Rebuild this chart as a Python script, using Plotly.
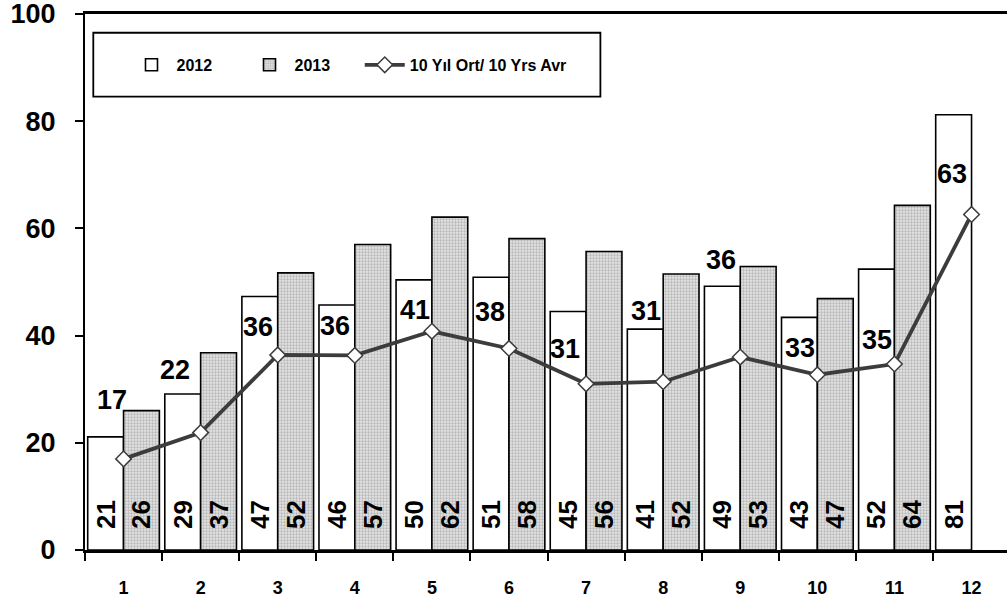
import plotly.graph_objects as go

months = ["1", "2", "3", "4", "5", "6", "7", "8", "9", "10", "11", "12"]
v2012 = [21.1, 29.1, 47.3, 45.7, 50.4, 50.9, 44.5, 41.2, 49.2, 43.4, 52.4, 81.2]
v2013 = [26.0, 36.8, 51.7, 57.0, 62.1, 58.1, 55.7, 51.5, 52.9, 46.9, 64.3, None]
avg10 = [17.0, 21.9, 36.4, 36.3, 40.8, 37.6, 31.0, 31.4, 36.0, 32.7, 34.7, 62.6]
yticks = [0, 20, 40, 60, 80, 100]

# label placement (pixel offsets of the average-line labels, style only)
lab_dx = [-12, -26, -20, -20, -17, -19, -21, -17, -19, -17, -17, -20]
lab_dy = [42, 46, 11, 12, 4, 19, 18, 54, 80, 10, 7, 23]

FONT = "Liberation Sans"
bar_font = dict(family=FONT, size=26, color="black", weight="bold")
line_font = dict(family=FONT, size=27, color="black", weight="bold")

fig = go.Figure()
fig.add_trace(go.Bar(
    x=months, y=v2012, name="2012",
    width=0.465, offset=-0.465,
    marker=dict(color="white", line=dict(color="black", width=1.6)),
    texttemplate="\u2002\u2009%{y:.0f}", textposition="inside", insidetextanchor="start",
    textangle=-90, insidetextfont=bar_font, legend="legend",
))
fig.add_trace(go.Bar(
    x=months, y=v2013, name="2013",
    width=0.465, offset=0,
    marker=dict(color="#d0d0d0", line=dict(color="black", width=1.6),
                pattern=dict(shape=".", fgcolor="#8a8a8a", bgcolor="#e4e4e4",
                             size=3, solidity=0.45)),
    texttemplate="\u2002\u2009%{y:.0f}", textposition="inside", insidetextanchor="start",
    textangle=-90, insidetextfont=bar_font, legend="legend2",
))
fig.add_trace(go.Scatter(
    x=months, y=avg10, name="10 Yıl Ort/ 10 Yrs Avr",
    mode="lines+markers",
    line=dict(color="#3c3c3c", width=3.8),
    marker=dict(symbol="diamond", size=12, color="white",
                line=dict(color="#3c3c3c", width=1.5)),
    legend="legend3",
))

for i, (v, dx, dy) in enumerate(zip(avg10, lab_dx, lab_dy)):
    fig.add_annotation(x=i, y=v, text=f"{v:.0f}", showarrow=False,
                       xanchor="center", yanchor="bottom", xshift=dx, yshift=dy,
                       font=line_font)

fig.add_shape(type="rect", xref="paper", yref="paper",
              x0=0.009, x1=0.559, y0=0.846, y1=0.965,
              line=dict(color="black", width=1.8), fillcolor="white", layer="below")

leg_common = dict(orientation="h", xanchor="left", yanchor="middle", y=0.905,
                  bgcolor="rgba(0,0,0,0)", borderwidth=0, itemwidth=40,
                  font=dict(family=FONT, size=16, color="black", weight="bold"))
fig.update_layout(
    width=1007, height=600,
    margin=dict(l=85, r=0, t=14, b=50, autoexpand=False),
    paper_bgcolor="white", plot_bgcolor="white",
    barmode="overlay",
    showlegend=True,
    legend=dict(x=0.045, **leg_common),
    legend2=dict(x=0.173, **leg_common),
    legend3=dict(x=0.298, **leg_common),
    font=dict(family=FONT, color="black"),
)
fig.update_xaxes(
    type="category", range=[-0.5, 11.46], automargin=False,
    showline=True, linecolor="black", linewidth=3, mirror=True,
    ticks="outside", tickson="boundaries", ticklen=8, tickwidth=1.5, tickcolor="black",
    tickfont=dict(family=FONT, size=18, color="black", weight="bold"),
    ticklabelstandoff=19, showgrid=False, zeroline=False, ticklabeloverflow="allow",
)
fig.update_yaxes(
    range=[0, 100], tickvals=yticks, automargin=False,
    showline=True, linecolor="black", linewidth=2,
    ticks="outside", ticklen=8, tickwidth=1.5, tickcolor="black",
    tickfont=dict(family=FONT, size=27, color="black", weight="bold"),
    ticklabelstandoff=14, showgrid=False, zeroline=False, ticklabeloverflow="allow",
)

fig.write_html("out.html", config={"displayModeBar": False},
               post_script="document.body.style.margin='0';")
